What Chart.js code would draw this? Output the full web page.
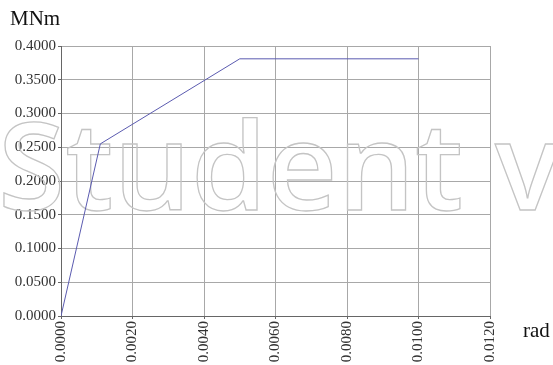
<!DOCTYPE html>
<html>
<head>
<meta charset="utf-8">
<script src="https://cdn.jsdelivr.net/npm/chart.js@4"></script>
<style>
  html,body{margin:0;padding:0;background:#fff;}
  #wrap{width:553px;height:365px;position:relative;}
</style>
</head>
<body>
<div id="wrap"><canvas id="c" width="553" height="365"></canvas></div>
<script>
// moment-rotation curve
const rotations = [0, 0.0011, 0.0050, 0.0100];
const moments = [0, 0.2550, 0.3810, 0.3810];
const xTicks = [0, 0.002, 0.004, 0.006, 0.008, 0.010, 0.012];
const yTicks = [0, 0.05, 0.10, 0.15, 0.20, 0.25, 0.30, 0.35, 0.40];
const yUnit = 'MNm';
const xUnit = 'rad';
const watermark = 'Student version';

const serif = '"Liberation Serif", "DejaVu Serif", serif';

// white page + the outlined watermark + unit labels
const extras = {
  id: 'extras',
  beforeDraw(chart){
    const ctx = chart.ctx;
    ctx.save();
    ctx.fillStyle = '#fff';
    ctx.fillRect(0, 0, chart.width, chart.height);
    ctx.restore();
  },
  beforeDatasetsDraw(chart){
    const ctx = chart.ctx;
    ctx.save();
    ctx.font = '600 100px "Open Sans"';
    let w = ctx.measureText('Student ').width;
    let size = 100 * 497 / w;
    ctx.font = '600 ' + size + 'px "Open Sans"';
    ctx.strokeStyle = '#c4c4c4';
    ctx.lineWidth = 1.3;
    ctx.textBaseline = 'alphabetic';
    ctx.strokeText(watermark, -2, 210);
    ctx.restore();
  },
  afterDraw(chart){
    const ctx = chart.ctx;
    ctx.save();
    ctx.fillStyle = '#111';
    ctx.font = '21px ' + serif;
    ctx.textBaseline = 'alphabetic';
    ctx.fillText(yUnit, 10, 25);
    ctx.fillText(xUnit, 523, 337);
    ctx.restore();
  }
};

new Chart(document.getElementById('c'), {
  type: 'line',
  data: {
    datasets: [{
      data: rotations.map((x, i) => ({x: x, y: moments[i]})),
      borderColor: '#5b5bb0',
      borderWidth: 1,
      pointRadius: 0,
      fill: false,
      tension: 0
    }]
  },
  options: {
    responsive: false,
    animation: false,
    layout: {padding: {left: 0, right: 63, top: 46, bottom: 0}},
    plugins: {legend: {display: false}, tooltip: {enabled: false}},
    scales: {
      x: {
        type: 'linear',
        min: 0, max: 0.012,
        afterBuildTicks: s => { s.ticks = xTicks.map(v => ({value: v})); },
        afterFit: s => { s.height = 49; },
        border: {color: '#666', width: 1},
        grid: {color: '#a8a8a8', lineWidth: 1, tickLength: 3, tickColor: '#666'},
        ticks: {
          minRotation: 90, maxRotation: 90,
          padding: 2,
          color: '#333',
          font: {family: serif, size: 15},
          callback: v => Number(v).toFixed(4)
        }
      },
      y: {
        type: 'linear',
        min: 0, max: 0.4,
        afterBuildTicks: s => { s.ticks = yTicks.map(v => ({value: v})); },
        afterFit: s => { s.width = 61; },
        border: {color: '#666', width: 1},
        grid: {color: '#a8a8a8', lineWidth: 1, tickLength: 3, tickColor: '#666'},
        ticks: {
          padding: 2,
          color: '#333',
          font: {family: serif, size: 15},
          callback: v => Number(v).toFixed(4)
        }
      }
    }
  },
  plugins: [extras]
});
</script>
</body>
</html>
